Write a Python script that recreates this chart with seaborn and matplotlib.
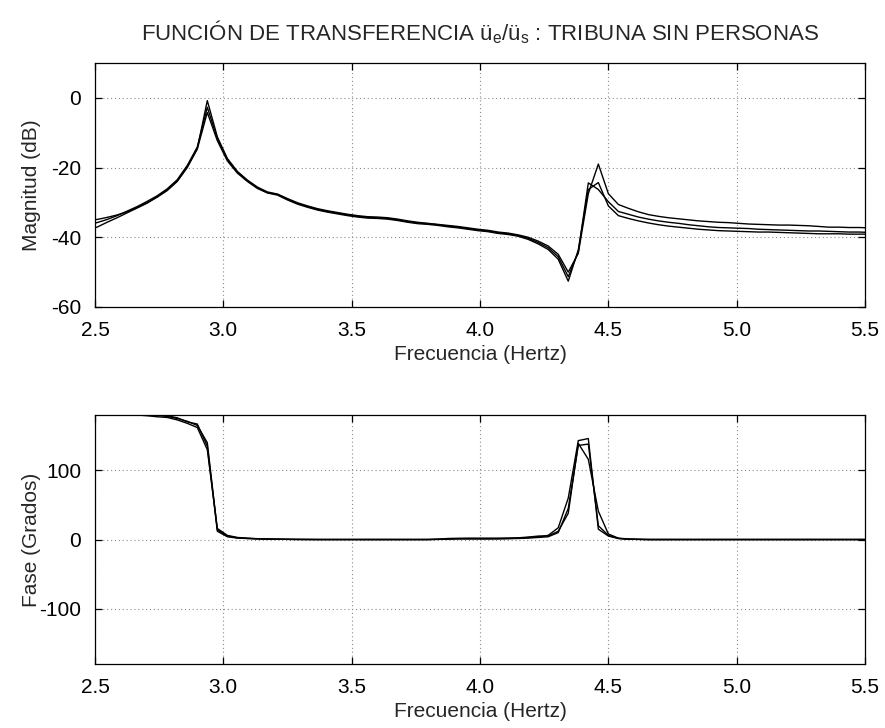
import matplotlib
matplotlib.use('Agg')
import matplotlib.pyplot as plt
import numpy as np
import pandas as pd
import seaborn as sns

# frequency grid of the analyser (Hz), 0.039 Hz resolution
freqs = 2.508 + 0.0390625 * np.arange(-1, 78)

# magnitude of the three measurements (dB)
mag_a = [-34.8, -34.9, -34.3, -33.6, -32.7, -31.5, -30.1, -28.5, -26.6, -24.0,
         -20.0, -14.6, -0.8, -11.2, -17.4, -21.1, -23.6, -25.6, -27.0, -27.6,
         -28.9, -30.1, -31.0, -31.8, -32.4, -32.9, -33.4, -33.8, -34.1, -34.2,
         -34.4, -34.8, -35.3, -35.7, -36.0, -36.3, -36.6, -36.9, -37.3, -37.7,
         -38.0, -38.5, -38.8, -39.3, -40.0, -41.1, -42.5, -44.9, -50.0, -44.6,
         -27.5, -19.0, -27.5, -30.6, -31.7, -32.7, -33.5, -34.0, -34.4, -34.7,
         -35.0, -35.3, -35.5, -35.7, -35.8, -36.0, -36.2, -36.3, -36.4, -36.5,
         -36.5, -36.6, -36.7, -36.9, -37.1, -37.1, -37.2, -37.2, -37.3]
mag_b = [-36.3, -35.8, -34.9, -33.8, -32.5, -31.2, -29.7, -28.1, -26.1, -23.5,
         -19.4, -14.1, -2.7, -11.7, -17.7, -21.3, -23.8, -25.8, -27.2, -27.7,
         -29.1, -30.3, -31.2, -32.0, -32.6, -33.1, -33.6, -34.0, -34.3, -34.4,
         -34.6, -35.0, -35.5, -35.9, -36.1, -36.4, -36.8, -37.1, -37.5, -37.9,
         -38.2, -38.7, -39.0, -39.5, -40.3, -41.5, -43.0, -45.6, -51.3, -44.2,
         -24.4, -26.3, -29.8, -32.6, -33.4, -34.2, -34.8, -35.3, -35.7, -36.0,
         -36.4, -36.7, -37.0, -37.2, -37.3, -37.4, -37.5, -37.7, -37.8, -37.9,
         -38.0, -38.1, -38.2, -38.2, -38.3, -38.4, -38.5, -38.5, -38.6]
mag_c = [-37.6, -37.1, -35.7, -34.4, -33.0, -31.6, -30.2, -28.4, -26.4, -23.8,
         -19.8, -14.7, -4.2, -12.3, -18.1, -21.6, -24.0, -26.0, -27.3, -27.9,
         -29.3, -30.5, -31.4, -32.2, -32.8, -33.3, -33.8, -34.2, -34.5, -34.6,
         -34.8, -35.2, -35.7, -36.1, -36.3, -36.6, -37.0, -37.3, -37.7, -38.1,
         -38.4, -38.9, -39.2, -39.7, -40.6, -41.9, -43.5, -46.3, -52.6, -43.6,
         -26.3, -24.3, -31.0, -33.8, -34.6, -35.3, -35.9, -36.4, -36.8, -37.1,
         -37.4, -37.7, -37.9, -38.1, -38.2, -38.3, -38.4, -38.5, -38.5, -38.6,
         -38.7, -38.8, -38.9, -39.0, -39.0, -39.0, -39.1, -39.1, -39.1]

# phase of the three measurements (degrees)
fase_a = [180, 180, 180, 180, 180, 180, 180, 179.5, 178, 175,
          171, 165, 140, 14, 5, 2.5, 1.5, 1.0, 0.7, 0.5,
          0.3, 0.2, 0.1, 0, 0, 0, 0, 0, 0, 0,
          0, 0, 0, 0, 0, 0.3, 0.8, 1.0, 1.0, 1.0,
          1.0, 1.2, 1.5, 2.0, 3.0, 4.0, 6.0, 17, 60, 143,
          146, 15, 5, 1.5, 0.5, 0.2, 0, 0, 0, 0,
          0, 0, 0, 0, 0, 0, 0, 0, 0, 0,
          0, 0, 0, 0, 0, 0, 0, 0, 0]
fase_b = [180, 180, 180, 180, 180, 180, 179, 177.5, 176.5, 173,
          168, 162, 130, 16, 6, 3, 2, 1.2, 0.8, 0.5,
          0.3, 0.2, 0.1, 0, 0, 0, 0, 0, 0, 0,
          0, 0, 0, 0, 0, 0.5, 1.5, 1.8, 2.0, 2.0,
          2.0, 2.0, 2.2, 2.5, 3.5, 5.0, 5.0, 12, 38, 139,
          116, 41, 8, 2, 0.8, 0.3, 0, 0, 0, 0,
          0, 0, 0, 0, 0, 0, 0, 0, 0, 0,
          0, 0, 0, 0, 0, 0, 0, 0, 0]
fase_c = [180, 180, 180, 180, 180, 180, 180, 180, 179, 176,
          170, 167, 135, 12, 4, 2, 1.5, 1.0, 0.6, 0.4,
          0.2, 0, 0, 0, 0, 0, 0, 0, 0, 0,
          0, 0, 0, 0, 0, 0.2, 0.5, 1.0, 1.0, 1.0,
          1.0, 1.0, 1.2, 1.5, 2.0, 3.0, 4.0, 10, 45, 136,
          138, 20, 6, 1.5, 0.5, 0.2, 0, 0, 0, 0,
          0, 0, 0, 0, 0, 0, 0, 0, 0, 0,
          0, 0, 0, 0, 0, 0, 0, 0, 0]

series = ['a', 'b', 'c']
mag_df = pd.DataFrame({
    'freq': np.tile(freqs, 3),
    'mag': mag_a + mag_b + mag_c,
    'serie': np.repeat(series, len(freqs)),
})
fase_df = pd.DataFrame({
    'freq': np.tile(freqs, 3),
    'fase': fase_a + fase_b + fase_c,
    'serie': np.repeat(series, len(freqs)),
})

sns.set_style('ticks')
plt.rcParams['font.family'] = ['Liberation Sans', 'DejaVu Sans']
plt.rcParams['mathtext.fontset'] = 'custom'
plt.rcParams['mathtext.rm'] = 'Liberation Sans'
plt.rcParams['mathtext.it'] = 'Liberation Sans'

fs = 15

fig = plt.figure(figsize=(8.85, 7.28), dpi=100)
ax1 = fig.add_axes([0.1073, 0.5783, 0.8701, 0.3352])
ax2 = fig.add_axes([0.1073, 0.0879, 0.8701, 0.3420])

sns.lineplot(data=mag_df, x='freq', y='mag', hue='serie', palette=['black'] * 3,
             legend=False, linewidth=1, estimator=None, sort=False, ax=ax1)
sns.lineplot(data=fase_df, x='freq', y='fase', hue='serie', palette=['black'] * 3,
             legend=False, linewidth=1, estimator=None, sort=False, ax=ax2)


def matlab_look(ax):
    ax.set_xlim(2.5, 5.5)
    ax.set_xticks([2.5, 3.0, 3.5, 4.0, 4.5, 5.0, 5.5])
    ax.set_xticklabels(['2.5', '3.0', '3.5', '4.0', '4.5', '5.0', '5.5'])
    ax.grid(True, linestyle=(0, (1, 2.5)), color='#8c8c8c', linewidth=0.8)
    ax.tick_params(direction='in', top=True, right=True, length=5, width=0.9,
                   labelsize=fs, pad=10, colors='black')
    for s in ax.spines.values():
        s.set_visible(True)
        s.set_linewidth(0.9)
        s.set_color('black')
    ax.set_xlabel('Frecuencia (Hertz)', fontsize=fs, labelpad=4)
    ax.yaxis.set_label_coords(-0.07, 0.5)


matlab_look(ax1)
ax1.set_ylim(-60, 10)
ax1.set_yticks([-60, -40, -20, 0])
ax1.set_yticklabels(['-60', '-40', '-20', '0'])
ax1.set_ylabel('Magnitud (dB)', fontsize=fs)

matlab_look(ax2)
ax2.set_ylim(-180, 180)
ax2.set_yticks([-100, 0, 100])
ax2.set_yticklabels(['-100', '0', '100'])
ax2.set_ylabel('Fase (Grados)', fontsize=fs)

fig.text(0.5424, 1 - 32 / 728,
         r'FUNCIÓN DE TRANSFERENCIA ü$_\mathregular{e}$/ü$_\mathregular{s}$ : TRIBUNA SIN PERSONAS',
         ha='center', va='center', fontsize=16)

fig.savefig('out.png', dpi=100)
plt.close(fig)
